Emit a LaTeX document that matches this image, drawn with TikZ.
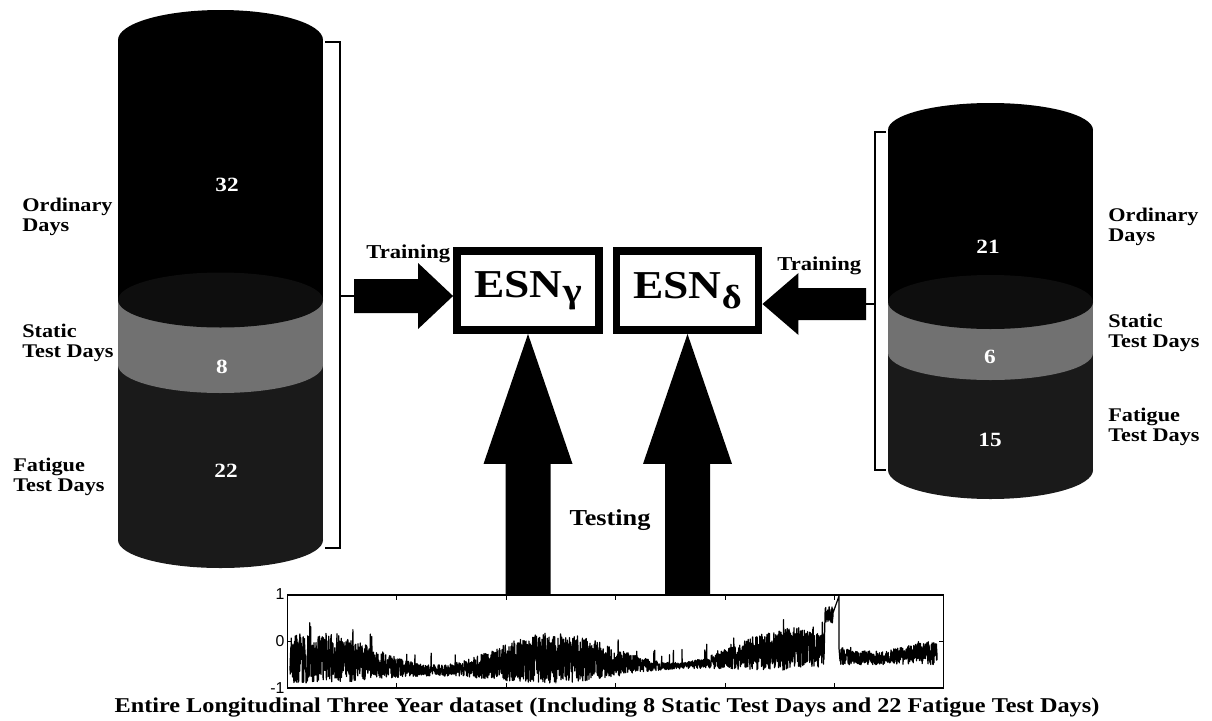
\documentclass[tikz,border=0pt]{standalone}
\usepackage{fontspec}
\setmainfont{Liberation Serif}[FakeStretch=1.15]
\setsansfont{Liberation Sans}
\usetikzlibrary{arrows.meta,calc,positioning}
\definecolor{ordinary}{HTML}{000000}
\definecolor{static}{HTML}{717171}
\definecolor{fatigue}{HTML}{1A1A1A}
\definecolor{lid}{HTML}{0E0E0E}

\begin{document}
\begin{tikzpicture}[x=0.02cm,y=-0.02cm,
 declare function={wave(\t)=cos(1.5*(\t-315)); rise(\t)=max(0,(\t-560)/240);
                   lo(\t)=-0.82-0.08*wave(\t)+0.3*rise(\t);
                   hi(\t)=-0.15+0.35*wave(\t)+0.1*rise(\t);},
 lab/.style={font=\fontsize{11}{11.4}\selectfont\bfseries,align=left,anchor=north west,inner sep=0pt},
 num/.style={font=\fontsize{11.5}{12}\selectfont\bfseries,text=white,inner sep=0pt},
 esn/.style={draw,line width=4.5pt,minimum width=2.84cm,minimum height=1.58cm,
             inner sep=0pt,font=\fontsize{22.5}{24}\selectfont\bfseries},
 blockarrow/.style={fill=black},
 brack/.style={line width=1.1pt},
 tick/.style={line width=0.5pt},
 signal/.style={line width=0.7pt,line join=round}]
\useasboundingbox (0,0) rectangle (1212,720);

% left cylinder
\fill[fatigue] (118,365) rectangle (323,540);
\fill[fatigue] (220.5,540) ellipse [x radius=102.5,y radius=28];
\fill[static] (118,300) rectangle (323,365);
\fill[static] (220.5,365) ellipse [x radius=102.5,y radius=28];
\fill[ordinary] (118,40) rectangle (323,300);
\fill[ordinary] (220.5,40) ellipse [x radius=102.5,y radius=30];
\fill[lid] (220.5,300) ellipse [x radius=102.5,y radius=27.5];
\node[num] (n32) at (227,185) {32};
\node[num] (n8) at (222,367) {8};
\node[num] (n22) at (226,471) {22};

% right cylinder
\fill[fatigue] (888,353) rectangle (1093,470);
\fill[fatigue] (990.5,470) ellipse [x radius=102.5,y radius=29];
\fill[static] (888,302) rectangle (1093,353);
\fill[static] (990.5,353) ellipse [x radius=102.5,y radius=27];
\fill[ordinary] (888,130) rectangle (1093,302);
\fill[ordinary] (990.5,130) ellipse [x radius=102.5,y radius=27];
\fill[lid] (990.5,302) ellipse [x radius=102.5,y radius=27];
\node[num] (n21) at (988,247) {21};
\node[num] (n6) at (990,357) {6};
\node[num] (n15) at (990,440) {15};

% side labels
\node[lab] (lord) at (22,198) {Ordinary\\Days};
\node[lab] (lsta) at (22,324) {Static\\Test Days};
\node[lab] (lfat) at (13,458) {Fatigue\\Test Days};
\node[lab] (rord) at (1108,208) {Ordinary\\Days};
\node[lab] (rsta) at (1108,314) {Static\\Test Days};
\node[lab] (rfat) at (1108,408) {Fatigue\\Test Days};

% networks
\node[esn] (esng) at (528,290.5) {ESN\raisebox{-2.5pt}{\fontsize{20}{20}\selectfont γ}};
\node[esn] (esnd) at (687.5,290.5) {ESN\raisebox{-6pt}{\fontsize{19}{19}\selectfont δ}};

% brackets and training
\coordinate (lmid) at (340,296);
\coordinate (ltail) at (354,296);
\coordinate (ltip) at (ltail -| esng.west);
\draw[brack] (325,42) -- (340,42) -- (340,548) -- (325,548);
\draw[brack] (lmid) -- (ltail);
\fill[blockarrow] ($(ltail)+(0,-17)$) -- ($(ltip)+(-35,-17)$) -- ($(ltip)+(-35,-33)$) -- (ltip)
  -- ($(ltip)+(-35,33)$) -- ($(ltip)+(-35,17)$) -- ($(ltail)+(0,17)$) -- cycle;
\coordinate (rmid) at (875,304);
\coordinate (rtail) at (866,304);
\coordinate (rtip) at (rtail -| esnd.east);
\draw[brack] (886,132) -- (875,132) -- (875,470) -- (886,470);
\draw[brack] (rmid) -- (rtail);
\fill[blockarrow] ($(rtail)+(0,-16)$) -- ($(rtip)+(36,-16)$) -- ($(rtip)+(36,-31)$) -- (rtip)
  -- ($(rtip)+(36,31)$) -- ($(rtip)+(36,16)$) -- ($(rtail)+(0,16)$) -- cycle;
\node[font=\fontsize{11.2}{12}\selectfont\bfseries,anchor=base west,inner sep=0pt] (ltrain) at (366,258.5) {Training};
\node[font=\fontsize{11.2}{12}\selectfont\bfseries,anchor=base west,inner sep=0pt] (rtrain) at (777,270.5) {Training};

% whole dataset
\pgfmathsetseed{11}
\draw[signal] plot[domain=290:824,samples=2600,variable=\t]
   (\t,{641.5-46.5*(lo(\t)+(hi(\t)-lo(\t))*rnd+0.3*(rnd>0.985))})
 -- plot[domain=825:833,samples=40,variable=\t] (\t,{641.5-46.5*(0.4+0.35*rnd)})
 -- (839,596) -- (839,648)
 -- plot[domain=840:937,samples=480,variable=\t]
   (\t,{641.5-46.5*(-0.5+(0.3+0.25*max(0,(\t-885)/52)+0.1*max(0,(855-\t)/15))*rnd+0.06*(rnd>0.97))});
\node[draw,line width=0.6pt,minimum width=13.14cm,minimum height=1.86cm,inner sep=0pt] (axes) at (615.5,641.5) {};
\foreach \k in {1,...,5} {
  \draw[tick] (287+109.5*\k,595) -- ++(0,5);
  \draw[tick] (287+109.5*\k,688) -- ++(0,-5);
}
\draw[tick] (287,641.5) -- ++(5,0);
\draw[tick] (944,641.5) -- ++(-5,0);
\node[font=\sffamily\fontsize{9}{9}\selectfont,anchor=east,inner sep=1pt] (yone) at (axes.north west) {1};
\node[font=\sffamily\fontsize{9}{9}\selectfont,anchor=east,inner sep=1pt] (yzero) at (axes.west) {0};
\node[font=\sffamily\fontsize{9}{9}\selectfont,anchor=east,inner sep=1pt] (ymone) at (axes.south west) {-1};
\node[font=\fontsize{12}{12}\selectfont\bfseries,inner sep=0pt] (caption) at (607,707)
  {Entire Longitudinal Three Year dataset (Including 8 Static Test Days and 22 Fatigue Test Days)};

% testing
\foreach \net in {esng,esnd} {
  \coordinate (base) at (axes.north -| \net.south);
  \fill[blockarrow] ($(base)+(-22.5,0)$) -- ($(\net.south)+(-22.5,130)$) -- ($(\net.south)+(-44.5,130)$)
    -- (\net.south) -- ($(\net.south)+(44.5,130)$) -- ($(\net.south)+(22.5,130)$) -- ($(base)+(22.5,0)$) -- cycle;
}
\node[font=\fontsize{13}{13}\selectfont\bfseries,inner sep=0pt] (testing) at (610,520) {Testing};
\end{tikzpicture}
\end{document}
